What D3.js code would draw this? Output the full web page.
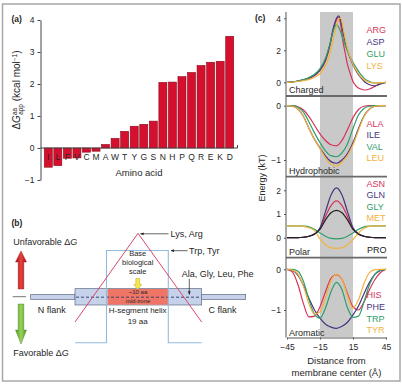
<!DOCTYPE html>
<html>
<head>
<meta charset="utf-8">
<script src="https://cdn.jsdelivr.net/npm/d3@7"></script>
<style>
body { margin: 0; background: #fff; }
svg text { font-family: "Liberation Sans", Arial, sans-serif; fill: #262626; }
</style>
</head>
<body>
<div id="chart"></div>
<script>
// panel (a): apparent free energy of insertion, one bar per amino acid
var aminoAcids = ["I","L","F","V","C","M","A","W","T","Y","G","S","N","H","P","Q","R","E","K","D"];
var dGapp = [-0.60,-0.55,-0.32,-0.31,-0.13,-0.10,0.11,0.30,0.52,0.68,0.74,0.84,2.05,2.06,2.23,2.36,2.58,2.68,2.71,3.49];
var aTicks = [-1,0,1,2,3,4];

// panel (c): energy profiles vs distance from membrane center
var chargedDist = [-45,-40,-35,-30,-25,-20,-15,-10,-6,-3,0,2,4,6,8,10,12,15,18,22,26,30,35,40,45];
var argE = [0,0.03,0.08,0.15,0.25,0.42,0.75,1.35,2.3,3.3,3.9,4.08,3.5,2.5,1.8,1.1,0.65,0.05,-0.25,-0.42,-0.48,-0.42,-0.25,-0.08,0];
var aspE = [0,0.03,0.08,0.15,0.26,0.44,0.78,1.4,2.35,3.35,4.0,4.15,3.8,3.1,2.5,2.0,1.6,1.1,0.7,0.3,0.0,-0.15,-0.22,-0.1,0];
var gluE = [0,0.03,0.08,0.17,0.3,0.5,0.85,1.5,2.4,3.2,3.6,3.45,3.1,2.7,2.3,1.95,1.65,1.25,0.9,0.5,0.2,0.05,-0.05,-0.03,0];
var lysE = [0,0.02,0.05,0.1,0.18,0.3,0.55,1.05,1.8,2.7,3.5,3.95,4.0,3.4,2.7,2.1,1.65,1.15,0.75,0.35,0.12,0.0,-0.05,-0.02,0];

var dist = [-45,-40,-35,-30,-25,-20,-15,-10,-5,0,5,10,15,20,25,30,35,40,45];
var alaE = [0,0,-0.02,-0.08,-0.2,-0.36,-0.52,-0.64,-0.72,-0.74,-0.64,-0.44,-0.22,-0.07,-0.01,0,0,0,0];
var ileE = [0,-0.01,-0.06,-0.2,-0.42,-0.62,-0.78,-0.93,-1.03,-1.06,-1.0,-0.88,-0.68,-0.42,-0.19,-0.06,-0.01,0,0];
var valE = [0,0,-0.03,-0.12,-0.3,-0.5,-0.68,-0.83,-0.92,-0.94,-0.87,-0.7,-0.42,-0.17,-0.05,-0.01,0,0,0];
var leuE = [0,-0.01,-0.06,-0.2,-0.42,-0.62,-0.79,-0.96,-1.08,-1.11,-1.04,-0.92,-0.72,-0.45,-0.2,-0.06,-0.01,0,0];

var asnE = [0,0,0,0.02,0.06,0.16,0.38,0.9,1.35,1.55,1.35,0.9,0.38,0.16,0.06,0.02,0,0,0];
var glnE = [0,0,0,0.02,0.06,0.17,0.42,1.1,1.8,2.1,1.8,1.1,0.42,0.17,0.06,0.02,0,0,0];
var glyE = [0.5,0.5,0.5,0.49,0.46,0.36,0.2,0.06,-0.03,-0.05,-0.03,0.06,0.2,0.36,0.46,0.49,0.5,0.5,0.5];
var metE = [0.5,0.5,0.5,0.48,0.42,0.3,-0.05,-0.3,-0.43,-0.45,-0.43,-0.3,-0.08,0.2,0.4,0.48,0.5,0.5,0.5];
var proE = [0,0,0,0.02,0.06,0.15,0.35,0.75,1.05,1.15,1.05,0.75,0.35,0.15,0.06,0.02,0,0,0];

var hisE = [0,-0.07,-0.38,-0.85,-1.17,-1.15,-0.92,-0.55,-0.22,-0.13,-0.25,-0.6,-0.92,-1.0,-0.8,-0.5,-0.25,-0.08,0];
var pheE = [0,-0.03,-0.15,-0.4,-0.72,-1.0,-1.2,-1.35,-1.42,-1.45,-1.4,-1.3,-1.12,-0.9,-0.6,-0.32,-0.12,-0.03,0];
var trpE = [0,0,-0.05,-0.3,-0.75,-1.1,-1.2,-0.95,-0.55,-0.32,-0.5,-0.95,-1.18,-1.15,-0.8,-0.38,-0.12,-0.02,0];
var tyrE = [0,-0.02,-0.12,-0.42,-0.85,-1.1,-1.05,-0.7,-0.28,-0.12,-0.25,-0.65,-0.95,-0.75,-0.35,-0.08,-0.01,0,0];

var distTicks = [-45,-15,15,45];
var membraneZone = [-15,15];

var RED = "#d5345a", PURPLE = "#45357f", GREEN = "#2f9e6a", ORANGE = "#f2b23e", BLACK = "#222";

var svg = d3.select("#chart").append("svg")
	.attr("width", 402)
	.attr("height", 385);

// outer frame
svg.append("rect")
	.attr("x", 2.5).attr("y", 4)
	.attr("width", 397.5).attr("height", 377)
	.attr("fill", "none")
	.attr("stroke", "#a8a8a8")
	.attr("stroke-width", 1.5);

/* ---------------- panel (a) ---------------- */
var yA = d3.scaleLinear().domain([-1,4]).range([180,20]);
var xA = d3.scaleBand().domain(aminoAcids).range([43.5,234.5]).paddingInner(0.16).paddingOuter(0.08);

var gA = svg.append("g");

gA.append("text").attr("x", 11.5).attr("y", 22).style("font-size","8.5px").style("font-weight","bold").text("(a)");

gA.selectAll("rect.bar")
	.data(dGapp)
	.enter()
	.append("rect")
	.attr("class", "bar")
	.attr("x", function(d,i){ return xA(aminoAcids[i]); })
	.attr("y", function(d){ return yA(Math.max(0,d)); })
	.attr("width", xA.bandwidth())
	.attr("height", function(d){ return Math.abs(yA(d) - yA(0)); })
	.attr("fill", "#d4102e")
	.attr("stroke", "#8a0a1c")
	.attr("stroke-width", 0.6);

var yAxisA = d3.axisLeft(yA).tickValues(aTicks).tickSize(3).tickSizeOuter(0).tickFormat(d3.format("d"));
var ya = gA.append("g")
	.attr("transform", "translate(40.5,0)")
	.call(yAxisA);
ya.selectAll("text").style("font-size","8.5px");
ya.selectAll("path,line").attr("stroke","#444");

// zero line with end tick
gA.append("path")
	.attr("d", "M40.5," + yA(0) + "H" + (xA.range()[1] + 3) + "v-3")
	.attr("fill","none")
	.attr("stroke","#444");

gA.selectAll("text.aa")
	.data(aminoAcids)
	.enter()
	.append("text")
	.attr("class","aa")
	.attr("x", function(d){ return xA(d) + xA.bandwidth()/2; })
	.attr("y", yA(0) + 11.5)
	.attr("text-anchor","middle")
	.style("font-size","8.5px")
	.text(function(d){ return d; });

gA.append("text")
	.attr("x", 139).attr("y", 176)
	.attr("text-anchor","middle")
	.style("font-size","9.5px")
	.text("Amino acid");

// y axis label with super/subscripts
var yl = gA.append("text")
	.attr("transform","translate(20,90) rotate(-90)")
	.attr("text-anchor","middle")
	.style("font-size","10px");
yl.append("tspan").text("\u0394");
yl.append("tspan").style("font-style","italic").text("G");
yl.append("tspan").attr("dy",-3.5).style("font-size","6.5px").text("aa");
yl.append("tspan").attr("dx",-7).attr("dy",6).style("font-size","6.5px").text("app");
yl.append("tspan").attr("dy",-2.5).text(" (kcal mol");
yl.append("tspan").attr("dy",-3.5).style("font-size","6.5px").text("\u22121");
yl.append("tspan").attr("dy",3.5).text(")");

/* ---------------- panel (b) ---------------- */
var gB = svg.append("g");
var defs = svg.append("defs");
defs.append("marker")
	.attr("id","ah")
	.attr("viewBox","0 0 10 10")
	.attr("refX",9).attr("refY",5)
	.attr("markerWidth",5).attr("markerHeight",5)
	.attr("orient","auto-start-reverse")
	.append("path").attr("d","M0,1L10,5L0,9z").attr("fill","#222");

var redGrad = defs.append("linearGradient").attr("id","redg").attr("x1",0).attr("x2",1).attr("y1",0).attr("y2",0);
redGrad.append("stop").attr("offset","0").attr("stop-color","#a3101a");
redGrad.append("stop").attr("offset","0.5").attr("stop-color","#e8423e");
redGrad.append("stop").attr("offset","1").attr("stop-color","#a3101a");
var greenGrad = defs.append("linearGradient").attr("id","greeng").attr("x1",0).attr("x2",1).attr("y1",0).attr("y2",0);
greenGrad.append("stop").attr("offset","0").attr("stop-color","#4f9a2a");
greenGrad.append("stop").attr("offset","0.5").attr("stop-color","#9ad35a");
greenGrad.append("stop").attr("offset","1").attr("stop-color","#4f9a2a");

gB.append("text").attr("x", 11.5).attr("y", 226).style("font-size","8.5px").style("font-weight","bold").text("(b)");

var t1 = gB.append("text").attr("x",13.3).attr("y",244.5).style("font-size","9px");
t1.append("tspan").text("Unfavorable \u0394");
t1.append("tspan").style("font-style","italic").text("G");
var t2 = gB.append("text").attr("x",13.3).attr("y",355.5).style("font-size","9px");
t2.append("tspan").text("Favorable \u0394");
t2.append("tspan").style("font-style","italic").text("G");

// up / down arrows
gB.append("path")
	.attr("d","M21,251L26.5,262H23.8V289H18.2V262H15.5Z")
	.attr("fill","url(#redg)").attr("stroke","#8a1010").attr("stroke-width",0.4);
gB.append("path")
	.attr("d","M21,344L26.5,330H23.8V304H18.2V330H15.5Z")
	.attr("fill","url(#greeng)").attr("stroke","#3f7a1e").attr("stroke-width",0.4);
gB.append("line").attr("x1",12.7).attr("x2",26).attr("y1",296.7).attr("y2",296.7).attr("stroke","#777");

// flanks and helix
gB.append("rect").attr("x",30.7).attr("y",294.5).attr("width",44.3).attr("height",5)
	.attr("fill","#c5d2ea").attr("stroke","#4a5570").attr("stroke-width",0.6);
gB.append("rect").attr("x",201.7).attr("y",294.5).attr("width",44).attr("height",5)
	.attr("fill","#c5d2ea").attr("stroke","#4a5570").attr("stroke-width",0.6);
gB.append("rect").attr("x",75).attr("y",288.7).attr("width",126.7).attr("height",16.3)
	.attr("fill","#c5d2ea").attr("stroke","#4a5570").attr("stroke-width",0.6);
gB.append("rect").attr("x",107.7).attr("y",289).attr("width",60.6).attr("height",15.7)
	.attr("fill","#ef7666");
gB.append("line").attr("x1",76).attr("x2",201).attr("y1",297.2).attr("y2",297.2)
	.attr("stroke","#2a3a6a").attr("stroke-width",0.9).attr("stroke-dasharray","3,2");

gB.append("text").attr("x",138).attr("y",294).attr("text-anchor","middle").style("font-size","6px").text("~10 aa");
gB.append("text").attr("x",138).attr("y",303).attr("text-anchor","middle").style("font-size","6px").text("mid-zone");

// profiles: Trp/Tyr step and Lys/Arg triangle
gB.append("path")
	.attr("d","M75.3,342.7H106.5V250.5H168.3V342.7H201.7")
	.attr("fill","none").attr("stroke","#92bbe0").attr("stroke-width",1.1);
gB.append("path")
	.attr("d","M75,322L138,233.3L201.7,322")
	.attr("fill","none").attr("stroke","#d8476a").attr("stroke-width",1);

gB.append("text").attr("x",51.7).attr("y",313.3).attr("text-anchor","middle").style("font-size","9px").text("N flank");
gB.append("text").attr("x",222.5).attr("y",313.3).attr("text-anchor","middle").style("font-size","9px").text("C flank");
gB.append("text").attr("x",137.7).attr("y",313.3).attr("text-anchor","middle").style("font-size","8px").text("H-segment helix");
gB.append("text").attr("x",137.7).attr("y",323.8).attr("text-anchor","middle").style("font-size","8px").text("19 aa");

gB.append("text").attr("x",137.7).attr("y",256).attr("text-anchor","middle").style("font-size","7.5px").text("Base");
gB.append("text").attr("x",137.7).attr("y",265).attr("text-anchor","middle").style("font-size","7.5px").text("biological");
gB.append("text").attr("x",137.7).attr("y",274).attr("text-anchor","middle").style("font-size","7.5px").text("scale");
// yellow arrow
gB.append("path")
	.attr("d","M137.7,289.5L141.7,284.5H139.6V278.5H135.8V284.5H133.7Z")
	.attr("fill","#f7e84a").attr("stroke","#b9a820").attr("stroke-width",0.5);

gB.append("line").attr("x1",168.5).attr("x2",140.5).attr("y1",233.8).attr("y2",233.8)
	.attr("stroke","#222").attr("stroke-width",0.7).attr("marker-end","url(#ah)");
gB.append("text").attr("x",170.5).attr("y",237).style("font-size","9px").text("Lys, Arg");
gB.append("line").attr("x1",187.5).attr("x2",171).attr("y1",250.7).attr("y2",250.7)
	.attr("stroke","#222").attr("stroke-width",0.7).attr("marker-end","url(#ah)");
gB.append("text").attr("x",189).attr("y",254).style("font-size","9px").text("Trp, Tyr");
gB.append("text").attr("x",181.7).attr("y",276.5).style("font-size","9px").text("Ala, Gly, Leu, Phe");
gB.append("line").attr("x1",189.3).attr("x2",189.3).attr("y1",279).attr("y2",294.5)
	.attr("stroke","#222").attr("stroke-width",0.7).attr("marker-end","url(#ah)");

/* ---------------- panel (c) ---------------- */
var xC = d3.scaleLinear().domain([-45,45]).range([287,386]);
var gC = svg.append("g");

gC.append("text").attr("x", 255).attr("y", 21).style("font-size","8.5px").style("font-weight","bold").text("(c)");

// membrane core shading
gC.append("rect")
	.attr("x", xC(membraneZone[0]))
	.attr("y", 12)
	.attr("width", xC(membraneZone[1]) - xC(membraneZone[0]))
	.attr("height", 325)
	.attr("fill", "#c9c9c9");

var panels = [
	{ name:"Charged", d: chargedDist, series:[argE,aspE,gluE,lysE], labels:["ARG","ASP","GLU","LYS"],
	  colors:[RED,PURPLE,GREEN,ORANGE], y: d3.scaleLinear().domain([0,4]).range([82.3,18.3]), ticks:[0,2,4],
	  legendY: 32.5, legendStep: 12, nameY: 93.3, sep: 96 },
	{ name:"Hydrophobic", d: dist, series:[alaE,ileE,valE,leuE], labels:["ALA","ILE","VAL","LEU"],
	  colors:[RED,PURPLE,GREEN,ORANGE], y: d3.scaleLinear().domain([0,-1]).range([105.7,160]), ticks:[0,-1],
	  legendY: 127.3, legendStep: 11.1, nameY: 174, sep: 176.7 },
	{ name:"Polar", d: dist, series:[asnE,glnE,glyE,metE,proE], labels:["ASN","GLN","GLY","MET"],
	  colors:[RED,PURPLE,GREEN,ORANGE,BLACK], y: d3.scaleLinear().domain([0,2]).range([237.7,190.3]), ticks:[0,1,2],
	  legendY: 187.3, legendStep: 11.1, nameY: 255, sep: 257.7 },
	{ name:"Aromatic", d: dist, series:[hisE,pheE,trpE,tyrE], labels:["HIS","PHE","TRP","TYR"],
	  colors:[RED,PURPLE,GREEN,ORANGE], y: d3.scaleLinear().domain([0,-1]).range([269.3,310]), ticks:[0,-1],
	  legendY: 298.3, legendStep: 11.7, nameY: 336, sep: null }
];

panels.forEach(function(p){
	var line = d3.line()
		.x(function(v,i){ return xC(p.d[i]); })
		.y(function(v){ return p.y(v); })
		.curve(d3.curveMonotoneX);

	gC.selectAll(null)
		.data(p.series)
		.enter()
		.append("path")
		.attr("d", line)
		.attr("fill","none")
		.attr("stroke", function(s,i){ return p.colors[i]; })
		.attr("stroke-width", 1.2);

	var ax = gC.append("g")
		.attr("transform","translate(286,0)")
		.call(d3.axisLeft(p.y).tickValues(p.ticks).tickSize(2).tickPadding(3).tickFormat(d3.format("d")));
	ax.select(".domain").remove();
	ax.selectAll("line").attr("stroke","#555");
	ax.selectAll("text").style("font-size","8.5px");

	gC.selectAll(null)
		.data(p.labels)
		.enter()
		.append("text")
		.attr("x", 366.5)
		.attr("y", function(d,i){ return p.legendY + i*p.legendStep; })
		.style("fill", function(d,i){ return p.colors[i]; })
		.style("font-size","9px")
		.text(function(d){ return d; });

	gC.append("text").attr("x",289).attr("y",p.nameY).style("font-size","9px").text(p.name);

	if (p.sep !== null) {
		gC.append("line")
			.attr("x1",286).attr("x2",387)
			.attr("y1",p.sep).attr("y2",p.sep)
			.attr("stroke","#6a6a6a").attr("stroke-width",1.8);
	}
});

gC.append("text").attr("x",386.5).attr("y",252.5).attr("text-anchor","end").style("font-size","9px").style("fill",BLACK).text("PRO");

// y axis line
gC.append("line").attr("x1",286).attr("x2",286).attr("y1",12).attr("y2",337.5).attr("stroke","#555");

// distance axis
var xax = gC.append("g")
	.attr("transform","translate(0,337.5)")
	.call(d3.axisBottom(xC).tickValues(distTicks).tickSize(2).tickSizeOuter(0).tickPadding(4).tickFormat(d3.format("d")));
xax.selectAll("path,line").attr("stroke","#555");
xax.selectAll("text").style("font-size","8.5px");

gC.append("text").attr("x",336.5).attr("y",364).attr("text-anchor","middle").style("font-size","9.5px").text("Distance from");
gC.append("text").attr("x",336.5).attr("y",376).attr("text-anchor","middle").style("font-size","9.5px").text("membrane center (\u00c5)");

gC.append("text")
	.attr("transform","translate(264.5,178) rotate(-90)")
	.attr("text-anchor","middle")
	.style("font-size","9px")
	.text("Energy (kT)");
</script>
</body>
</html>
